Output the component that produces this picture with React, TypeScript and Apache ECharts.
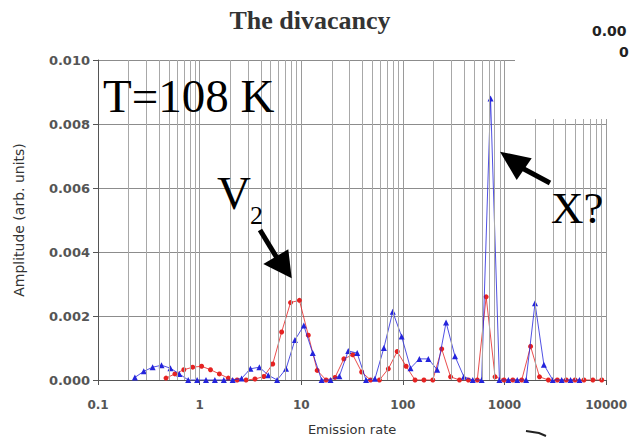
import React, { useEffect, useRef } from "react";
import * as echarts from "echarts";

// Emission-rate grid of the blue (triangle) spectrum
const blueX = [0.2305, 0.282, 0.3449, 0.4218, 0.516, 0.6313, 0.7722, 0.9445, 1.155, 1.413, 1.729, 2.115, 2.587, 3.164, 3.871, 4.735, 5.791, 7.084, 8.665, 10.6, 12.97, 15.86, 19.4, 23.73, 29.02, 35.5, 43.43, 53.12, 64.98, 79.48, 97.21, 118.9, 145.4, 177.9, 217.6, 266.2, 325.6, 398.3, 487.2, 595.9, 729.0, 891.7, 1091, 1334, 1632, 1996, 2441, 2986, 3653, 4468, 5466];
const blueY = [0.00008, 0.00027, 0.0004, 0.00046, 0.00037, 0.00019, 0, 0, 0, 0, 0, 0, 0.00005, 0.00035, 0.0004, 0.00015, 0, 0.00035, 0.00125, 0.0017, 0.00084, 0, 0, 0.00012, 0.00091, 0.00084, 0, 0.00004, 0.001, 0.00213, 0.00136, 0.00037, 0.00066, 0.00066, 0.00032, 0.0018, 0.00074, 0.0001, 0, 0, 0.0088, 0, 0, 0, 0, 0.0024, 0.00048, 0, 0, 0, 0];

// Emission-rate grid of the red (dot) spectrum
const redX = [0.467, 0.5712, 0.6988, 0.8549, 1.046, 1.279, 1.565, 1.914, 2.341, 2.864, 3.503, 4.285, 5.242, 6.412, 7.844, 9.592, 11.73, 14.35, 17.55, 21.47, 26.27, 32.13, 39.3, 48.08, 58.81, 71.94, 88.0, 107.6, 131.7, 161.1, 197.0, 241.0, 294.8, 360.6, 441.1, 539.6, 660.0, 807.4, 987.2, 1207, 1477, 1806, 2210, 2703, 3307, 4045, 4948, 6052, 7403, 9056];
const redY = [0.00006, 0.00019, 0.00032, 0.0004, 0.00043, 0.00032, 0.00019, 0.00006, 0, 0, 0.00003, 0.00011, 0.0005, 0.0015, 0.00242, 0.00249, 0.0014, 0.0003, 0, 0.00008, 0.00066, 0.00079, 0.00025, 0, 0, 0.00035, 0.00089, 0.00043, 0, 0, 0, 0.00097, 0.0001, 0, 0, 0, 0.0026, 0.0001, 0, 0, 0, 0.00105, 0.0001, 0, 0, 0, 0, 0, 0, 0];

const decades = [0.1, 1, 10, 100, 1000];
const minorMultipliers = [2, 3, 4, 5, 6, 7, 8, 9];

const titleText = "The divacancy";
const xName = "Emission rate";
const yName = "Amplitude (arb. units)";

export default function App() {
  const ref = useRef<HTMLDivElement>(null);
  useEffect(() => {
    document.body.style.margin = "0";
    if (!ref.current) return;
    const chart = echarts.init(ref.current, undefined, { renderer: "svg" });
    const minorLines: { xAxis: number }[] = [];
    decades.forEach((d) => minorMultipliers.forEach((m) => minorLines.push({ xAxis: Number((d * m).toPrecision(3)) })));

    const serif = '"Liberation Serif", "Times New Roman", serif';
    const sans = '"DejaVu Sans", sans-serif';

    chart.setOption({
      animation: false,
      backgroundColor: "#fff",
      grid: { left: 98, right: 22, top: 60, bottom: 59, containLabel: false },
      xAxis: {
        type: "log",
        logBase: 10,
        min: 0.1,
        max: 10000,
        name: xName,
        nameLocation: "middle",
        nameGap: 43,
        nameTextStyle: { fontFamily: sans, fontSize: 13, color: "#333" },
        axisLine: { show: true, lineStyle: { color: "#555", width: 1 } },
        axisTick: { show: true, length: 5, lineStyle: { color: "#555" } },
        axisLabel: {
          margin: 19,
          fontFamily: sans,
          fontSize: 12,
          fontWeight: "bold",
          color: "#555",
          showMaxLabel: true,
          showMinLabel: true,
          formatter: (v: number) => String(Number(v.toPrecision(3))),
        },
        splitLine: { show: true, lineStyle: { color: "#9a9a9a", width: 1 } },
      },
      yAxis: {
        type: "value",
        min: 0,
        max: 0.01,
        interval: 0.002,
        name: yName,
        nameLocation: "middle",
        nameGap: 72,
        nameTextStyle: { fontFamily: sans, fontSize: 14, color: "#333" },
        axisLine: { show: true, lineStyle: { color: "#555", width: 1 } },
        axisTick: { show: true, length: 5, lineStyle: { color: "#555" } },
        axisLabel: {
          margin: 8,
          fontFamily: sans,
          fontSize: 13,
          fontWeight: "bold",
          color: "#555",
          formatter: (v: number) => v.toFixed(3),
        },
        splitLine: { show: true, lineStyle: { color: "#8c8c8c", width: 1 } },
      },
      series: [
        {
          type: "line",
          data: [],
          silent: true,
          z: 1,
          markLine: {
            silent: true,
            symbol: ["none", "none"],
            label: { show: false },
            lineStyle: { color: "#a8a8a8", width: 1, type: "solid" },
            data: minorLines,
          },
        },
        {
          name: "red",
          type: "line",
          z: 3,
          data: redX.map((x, i) => [x, redY[i]]),
          symbol: "circle",
          symbolSize: 5,
          itemStyle: { color: "#e52222" },
          lineStyle: { color: "#e52222", width: 1, opacity: 0.8 },
        },
        {
          name: "blue",
          type: "line",
          z: 4,
          data: blueX.map((x, i) => [x, blueY[i]]),
          symbol: "triangle",
          symbolSize: 6,
          itemStyle: { color: "#2424dc" },
          lineStyle: { color: "#2424dc", width: 1, opacity: 0.8 },
        },
      ],
      graphic: [
        { type: "rect", z: 100, shape: { x: 515, y: 0, width: 115, height: 119 }, style: { fill: "#fff" } },
        { type: "text", z: 101, x: 592, y: 31, style: { text: "0.00", font: `bold 14px ${sans}`, fill: "#222", verticalAlign: "middle" } },
        { type: "text", z: 101, x: 619, y: 52, style: { text: "0", font: `bold 14px ${sans}`, fill: "#222", verticalAlign: "middle" } },
        { type: "text", z: 101, x: 310, y: 20, style: { text: titleText, font: `bold 26px ${serif}`, fill: "#333", align: "center", verticalAlign: "middle" } },
        { type: "text", z: 101, x: 103, y: 96, style: { text: "T=108 K", font: `47px ${serif}`, fill: "#000", verticalAlign: "middle" } },
        { type: "text", z: 101, x: 217, y: 193, style: { text: "V", font: `47px ${serif}`, fill: "#000", verticalAlign: "middle" } },
        { type: "text", z: 101, x: 250, y: 215, style: { text: "2", font: `26px ${serif}`, fill: "#000", verticalAlign: "middle" } },
        { type: "text", z: 101, x: 551, y: 208, style: { text: "X?", font: `45px ${serif}`, fill: "#000", verticalAlign: "middle" } },
        { type: "line", z: 101, shape: { x1: 260, y1: 230, x2: 277, y2: 258 }, style: { stroke: "#000", lineWidth: 5 } },
        { type: "polygon", z: 101, shape: { points: [[291.7, 278.3], [263.3, 264], [288.3, 249.3]] }, style: { fill: "#000" } },
        { type: "line", z: 101, shape: { x1: 550, y1: 183, x2: 522, y2: 168 }, style: { stroke: "#000", lineWidth: 5 } },
        { type: "polygon", z: 101, shape: { points: [[500, 151.7], [516.7, 180], [531.7, 158.3]] }, style: { fill: "#000" } },
        { type: "polyline", z: 101, shape: { points: [[526, 431], [539, 433], [546, 436]] }, style: { stroke: "#222", lineWidth: 2, fill: "none" } },
      ],
    });
    return () => chart.dispose();
  }, []);
  return <div ref={ref} style={{ width: 630, height: 441 }} />;
}
